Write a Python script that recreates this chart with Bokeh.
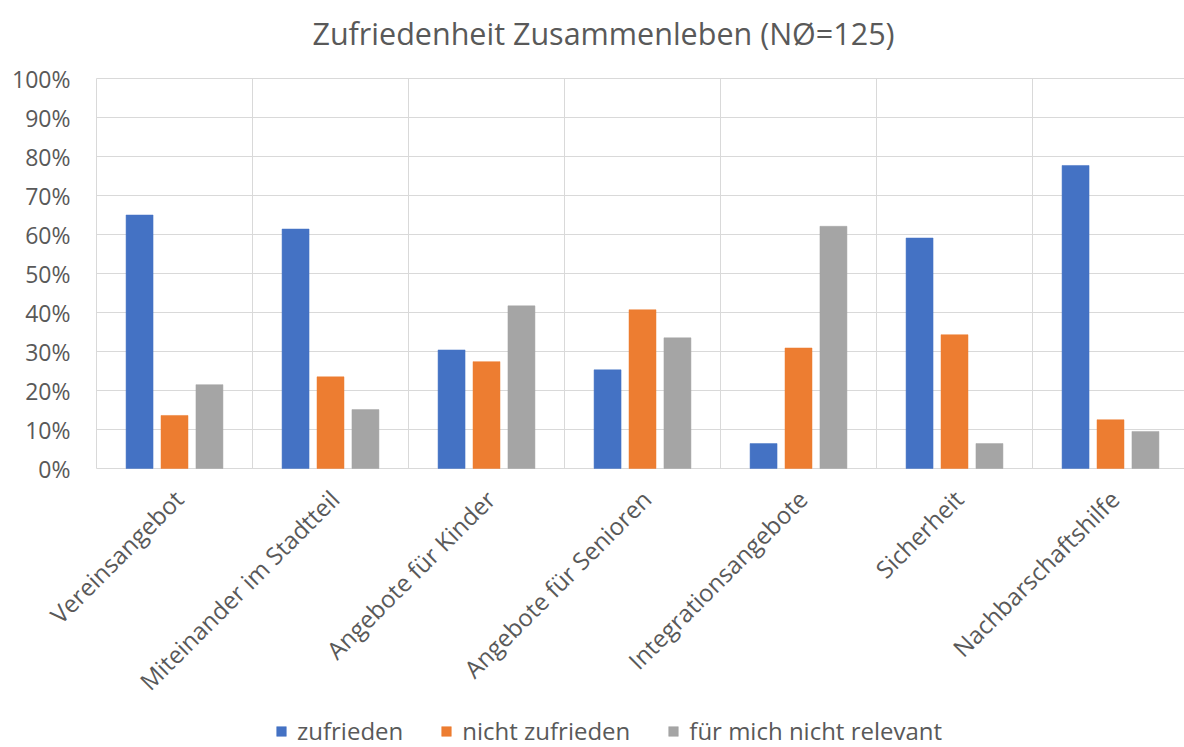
import math
from bokeh.plotting import figure
from bokeh.models import ColumnDataSource, Legend, LegendItem
from bokeh.core.properties import value
from bokeh.embed import file_html
from bokeh.resources import INLINE

title_text = "Zufriedenheit Zusammenleben (NØ=125)"
categories = ["Vereinsangebot", "Miteinander im Stadtteil", "Angebote für Kinder",
              "Angebote für Senioren", "Integrationsangebote", "Sicherheit", "Nachbarschaftshilfe"]
series_names = ["zufrieden", "nicht zufrieden", "für mich nicht relevant"]
zufrieden = [65.0, 61.4, 30.4, 25.3, 6.4, 59.1, 77.7]
nicht_zufrieden = [13.6, 23.5, 27.4, 40.7, 30.9, 34.3, 12.5]
nicht_relevant = [21.5, 15.1, 41.7, 33.5, 62.1, 6.4, 9.5]
y_ticks = [0, 10, 20, 30, 40, 50, 60, 70, 80, 90, 100]
y_tick_labels = [f"{t}%" for t in y_ticks]

colors = ["#4472C4", "#ED7D31", "#A5A5A5"]
FONT = "Open Sans"
TXT = "#595959"
GRID = "#D9D9D9"

# layout constants (pixels)
PX_PER_UNIT = 3.9      # vertical pixels per percent
CAT_PX = 156           # horizontal pixels per category
LEFT_PX = 96           # plot area starts here
ZERO_PX = 468          # 0 % line from top
FRAME_W = 1184
FRAME_H = 747
TITLE_CX_PX = 603
TITLE_CY_PX = 32

y_top = ZERO_PX / PX_PER_UNIT
y_bottom = -(FRAME_H - ZERO_PX) / PX_PER_UNIT
x_start = -LEFT_PX / CAT_PX
x_end = x_start + FRAME_W / CAT_PX

p = figure(frame_width=FRAME_W, frame_height=FRAME_H, output_backend="svg", toolbar_location=None,
           x_range=(x_start, x_end), y_range=(y_bottom, y_top),
           x_axis_location=None, y_axis_location=None, title=None,
           min_border_left=0, min_border_right=0, min_border_top=0, min_border_bottom=0)
p.outline_line_color = None
p.background_fill_color = "white"
p.grid.visible = False

n = len(categories)
centers = [i + 0.5 for i in range(n)]
bounds = list(range(n + 1))

# grid lines over the value area only
p.segment(x0=[0] * len(y_ticks), y0=y_ticks, x1=[n] * len(y_ticks), y1=y_ticks,
          line_color=GRID, line_width=1)
p.segment(x0=bounds, y0=[0] * len(bounds), x1=bounds, y1=[100] * len(bounds),
          line_color=GRID, line_width=1)

offsets = [-0.224, 0.0, 0.224]
renderers = []
for vals, off, col in zip([zufrieden, nicht_zufrieden, nicht_relevant], offsets, colors):
    src = ColumnDataSource(dict(x=[c + off for c in centers], top=vals))
    r = p.vbar(x="x", top="top", bottom=0, width=0.173, source=src,
               fill_color=col, line_color=col, line_width=0.5)
    renderers.append(r)

# title
p.text(x=[(TITLE_CX_PX - LEFT_PX) / CAT_PX], y=[(ZERO_PX - TITLE_CY_PX) / PX_PER_UNIT],
       text=[title_text], text_align="center", text_baseline="middle",
       text_font=value(FONT), text_font_size=value("30.5px"), text_color=TXT)

# y tick labels
ylab_src = ColumnDataSource(dict(x=[0] * len(y_ticks), y=y_ticks, text=y_tick_labels))
p.text(x="x", y="y", text="text", source=ylab_src, x_offset=-26,
       text_align="right", text_baseline="middle",
       text_font=value(FONT), text_font_size=value("23px"), text_color=TXT)

# category labels, rotated 45 degrees
lab_src = ColumnDataSource(dict(x=centers, y=[0] * n, text=categories))
p.text(x="x", y="y", text="text", source=lab_src, angle=math.pi / 4,
       x_offset=4, y_offset=26, text_align="right", text_baseline="middle",
       text_font=value(FONT), text_font_size=value("24px"), text_color=TXT)

legend = Legend(items=[LegendItem(label=s, renderers=[r]) for s, r in zip(series_names, renderers)],
                orientation="horizontal", location=(275, 0),
                label_text_font=FONT, label_text_font_size="24px", label_text_color=TXT,
                glyph_width=12, glyph_height=12, label_standoff=10, spacing=37,
                border_line_color=None, background_fill_alpha=0, padding=0, margin=0)
p.add_layout(legend, "center")

open("out.html", "w").write(file_html(p, INLINE))
